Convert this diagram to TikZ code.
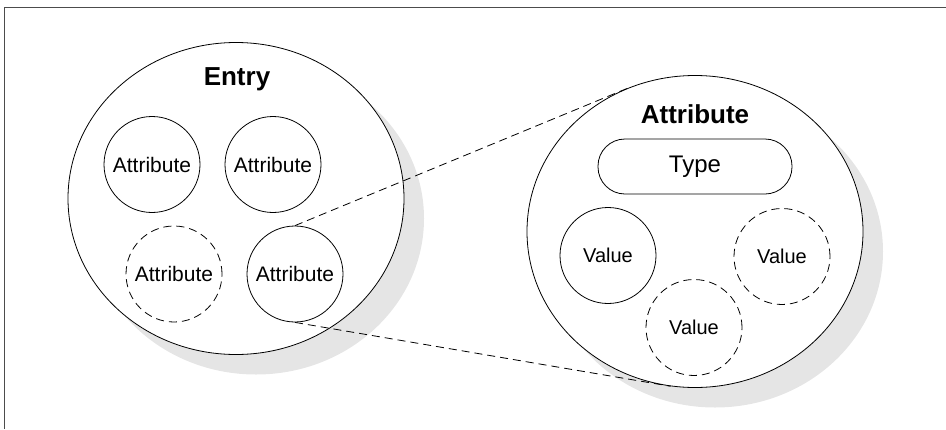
\documentclass[tikz,border=0pt]{standalone}
\usepackage{fontspec}
\setmainfont{Liberation Sans}
\usetikzlibrary{shapes.geometric,shadows}
\tikzset{
	blob/.style={ellipse, draw, fill=white, line width=0.8pt, minimum width=336pt, minimum height=312pt,
		drop shadow={shadow xshift=20pt, shadow yshift=-20pt, fill=black!10, opacity=1}},
	part/.style={circle, draw, line width=0.8pt, minimum size=96pt, inner sep=0pt, font=\fontsize{21}{25}\selectfont},
	maybe/.style={part, dash pattern=on 8pt off 5pt},
	val/.style={part, font=\fontsize{20}{24}\selectfont},
	maybeval/.style={val, dash pattern=on 8pt off 5pt},
	head/.style={font=\fontsize{26}{30}\selectfont\bfseries},
	zoomline/.style={line width=0.8pt, dash pattern=on 8pt off 5pt}
}

\begin{document}
\begin{tikzpicture}[x=1pt, y=-1pt]
			\useasboundingbox (0,0) rectangle (946,429);
			\draw[gray!60!black, line width=0.75pt] (946,7)--(4,7)--(4,429);
			% the entry
			\node[blob] (entry) at (236,198.5) {};
			\node[head] (entrytxt) at (237,79) {Entry};
			\node[part] (a1) at (152,164.5) {Attribute};
			\node[part] (a2) at (273,164.5) {Attribute};
			\node[maybe] (a3) at (174,274) {Attribute};
			\node[part] (a4) at (295,274) {Attribute};
			% the attribute, enlarged
			\node[blob] (attr) at (695,231.5) {};
			\node[head] (attrtxt) at (695,114) {Attribute};
			\node[draw, line width=0.8pt, rounded corners=27pt, minimum width=194pt, minimum height=55pt,
				font=\fontsize{24}{28}\selectfont] (type) at (695,166.5) {Type};
			\node[val] (v1) at (608,255.5) {Value};
			\node[maybeval] (v2) at (782,256.5) {Value};
			\node[maybeval] (v3) at (694,327.5) {Value};
			\draw[zoomline] (a4.north)--(attr.114);
			\draw[zoomline] (a4.south)--(attr.261);
		\end{tikzpicture}
\end{document}
